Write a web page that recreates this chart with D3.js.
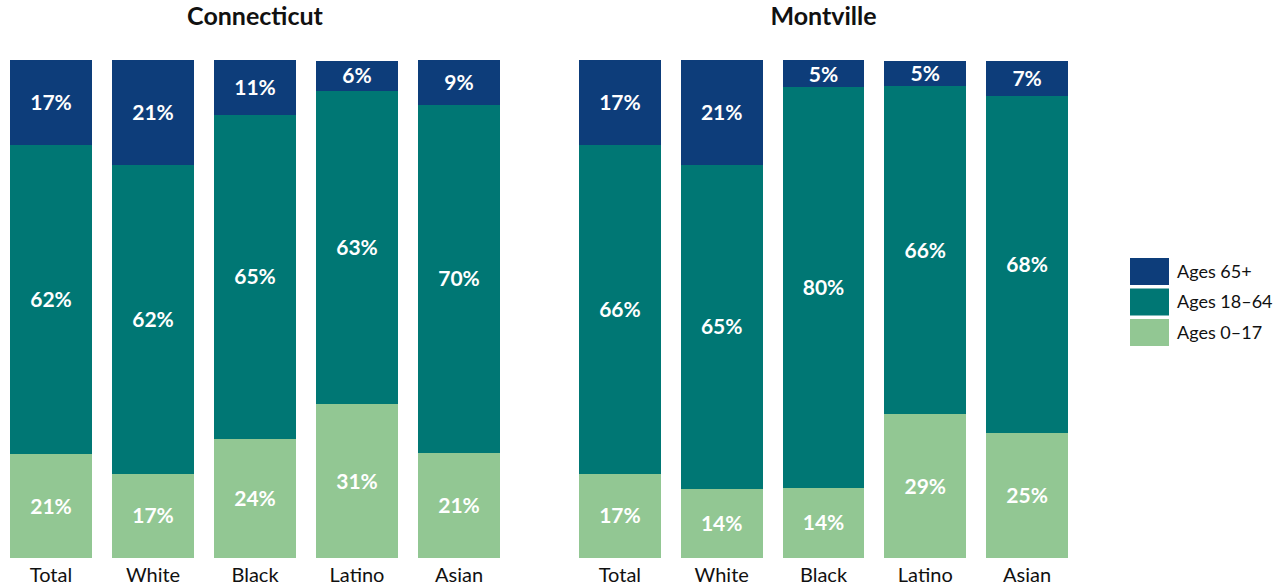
<!DOCTYPE html>
<html>
<head>
<meta charset="utf-8">
<script src="https://cdn.jsdelivr.net/npm/d3@7"></script>
<style>
  body { margin: 0; background: #fff; }
  svg { font-family: Lato, "Noto Sans", sans-serif; }
</style>
</head>
<body>
<div id="chart-area"></div>
<script>
// Age shares by race/ethnicity, Connecticut vs Montville
var groups = ['Total', 'White', 'Black', 'Latino', 'Asian'];
var ageKeys = ['Ages 0–17', 'Ages 18–64', 'Ages 65+'];
var places = ['Connecticut', 'Montville'];

var ctAges0to17  = [0.209, 0.169, 0.239, 0.309, 0.211];
var ctAges18to64 = [0.621, 0.620, 0.651, 0.629, 0.699];
var ctAges65up   = [0.170, 0.211, 0.110, 0.060, 0.090];

var mvAges0to17  = [0.169, 0.139, 0.141, 0.289, 0.251];
var mvAges18to64 = [0.661, 0.651, 0.804, 0.659, 0.677];
var mvAges65up   = [0.170, 0.210, 0.054, 0.050, 0.070];

var colors = ['#92c793', '#007774', '#0d3d7a'];

var width = 1284, height = 587;
var chartTop = 60, chartBottom = 558;
var panelRanges = [[10, 500], [579, 1068]];

function rows(a, b, c) {
  return groups.map(function(g, i) {
    var r = { group: g };
    r[ageKeys[0]] = a[i];
    r[ageKeys[1]] = b[i];
    r[ageKeys[2]] = c[i];
    return r;
  });
}
var panelData = [
  rows(ctAges0to17, ctAges18to64, ctAges65up),
  rows(mvAges0to17, mvAges18to64, mvAges65up)
];

var svg = d3.select('#chart-area')
  .append('svg')
    .attr('width', width)
    .attr('height', height);

var y = d3.scaleLinear().domain([0, 1]).range([chartBottom, chartTop]);
var color = d3.scaleOrdinal().domain(ageKeys).range(colors);
var stack = d3.stack().keys(ageKeys);
var fmt = d3.format('.0%');

panelData.forEach(function(data, p) {
  var x = d3.scaleBand()
    .domain(groups)
    .range(panelRanges[p])
    .paddingInner(0.196)
    .paddingOuter(0);

  var g = svg.append('g');

  // title
  g.append('text')
    .attr('x', (panelRanges[p][0] + panelRanges[p][1]) / 2)
    .attr('y', 25)
    .attr('text-anchor', 'middle')
    .attr('font-size', '25px')
    .attr('font-weight', 'bold')
    .attr('fill', '#111')
    .text(places[p]);

  var series = g.selectAll('.series')
    .data(stack(data))
    .enter().append('g')
      .attr('class', 'series')
      .attr('fill', function(d) { return color(d.key); });

  series.selectAll('rect')
    .data(function(d) { return d; })
    .enter().append('rect')
      .attr('shape-rendering', 'crispEdges')
      .attr('x', function(d) { return x(d.data.group); })
      .attr('width', x.bandwidth())
      .attr('y', function(d) { return y(d[1]); })
      .attr('height', function(d) { return y(d[0]) - y(d[1]); });

  series.selectAll('text')
    .data(function(d) { return d; })
    .enter().append('text')
      .attr('x', function(d) { return x(d.data.group) + x.bandwidth() / 2; })
      .attr('y', function(d) { return (y(d[0]) + y(d[1])) / 2; })
      .attr('dy', '0.36em')
      .attr('text-anchor', 'middle')
      .attr('font-size', '21px')
      .attr('font-weight', 'bold')
      .attr('fill', '#fff')
      .text(function(d) { return fmt(d[1] - d[0]); });

  // x axis labels
  var xAxis = d3.axisBottom(x).tickSize(0).tickPadding(10);
  var ax = g.append('g')
    .attr('transform', 'translate(0,' + chartBottom + ')')
    .call(xAxis);
  ax.select('.domain').remove();
  ax.selectAll('text')
    .attr('font-family', 'Lato, "Noto Sans", sans-serif')
    .attr('font-size', '20px')
    .attr('fill', '#111');
});

// legend
var legend = svg.append('g')
  .attr('transform', 'translate(1130,258)');
var legendKeys = ageKeys.slice().reverse();
var li = legend.selectAll('g')
  .data(legendKeys)
  .enter().append('g')
    .attr('transform', function(d, i) { return 'translate(0,' + (i * 30.5) + ')'; });
li.append('rect')
  .attr('width', 39)
  .attr('height', 27)
  .attr('fill', function(d) { return color(d); });
li.append('text')
  .attr('x', 47)
  .attr('y', 13.5)
  .attr('dy', '0.36em')
  .attr('font-size', '18px')
  .attr('fill', '#111')
  .text(function(d) { return d; });
</script>
</body>
</html>
